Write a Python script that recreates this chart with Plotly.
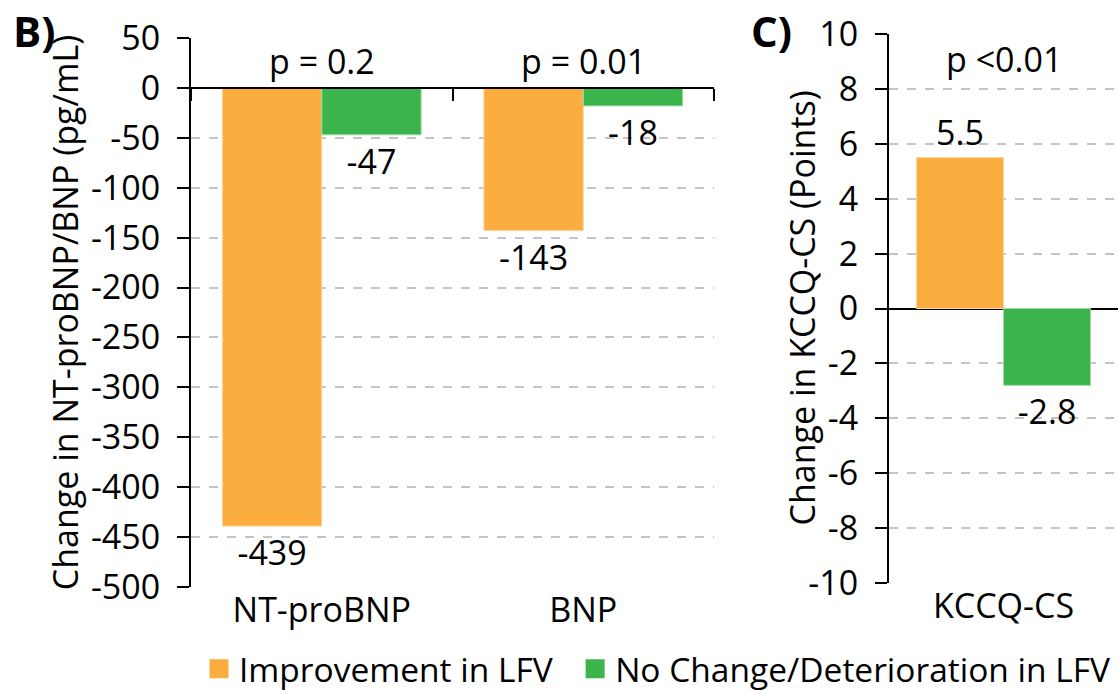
import plotly.graph_objects as go

# ---- data ----
left_categories = ["NT-proBNP", "BNP"]
left_improve = [-439, -143]
left_nochange = [-47, -18]
left_pvalues = ["p = 0.2", "p = 0.01"]

right_categories = ["KCCQ-CS"]
right_improve = [5.5]
right_nochange = [-2.8]
right_pvalues = ["p <0.01"]

series_names = ["Improvement in LFV", "No Change/Deterioration in LFV"]
left_yticks = list(range(-500, 51, 50))
right_yticks = list(range(-10, 11, 2))

ORANGE = "#FBAD3F"
GREEN = "#3BB54B"
FONT = "Open Sans"
FS = 34

W, H = 1118, 694
def px_x(v): return v / W
def px_y(v): return 1 - v / H

left_dom_x = [px_x(191), px_x(714)]
left_dom_y = [px_y(587), px_y(38)]
right_dom_x = [px_x(889), 1.0]
right_dom_y = [px_y(583), px_y(34)]

fig = go.Figure()

def fmt(v):
    return f"{v:g}"

def bar(x, y, name, color, edge, xa, ya):
    return go.Bar(x=x, y=y, name=name,
                  marker=dict(color=color, line=dict(color=edge, width=1)),
                  text=[fmt(v) for v in y], textposition="outside",
                  textfont=dict(size=FS, color="black", family=FONT),
                  cliponaxis=False, xaxis=xa, yaxis=ya, showlegend=False)

fig.add_trace(bar(left_categories, left_improve, series_names[0], ORANGE, "#FDD6A0", "x", "y"))
fig.add_trace(bar(left_categories, left_nochange, series_names[1], GREEN, "#9ED9A5", "x", "y"))
fig.add_trace(bar(right_categories, right_improve, series_names[0], ORANGE, "#FDD6A0", "x2", "y2"))
fig.add_trace(bar(right_categories, right_nochange, series_names[1], GREEN, "#9ED9A5", "x2", "y2"))

# empty trace so the zero-line axis (with category boundary ticks) has categories
fig.add_trace(go.Scatter(x=left_categories, y=[None] * len(left_categories), mode="markers",
                         xaxis="x3", yaxis="y", showlegend=False, hoverinfo="skip"))

# legend entries (square swatches)
legend_labels = [series_names[0] + "\u00a0\u00a0", series_names[1]]
for name, color in zip(legend_labels, [ORANGE, GREEN]):
    fig.add_trace(go.Scatter(x=[None], y=[None], mode="markers", name=name,
                             marker=dict(symbol="square", size=16, color=color,
                                         line=dict(color=color, width=3)),
                             xaxis="x", yaxis="y", showlegend=True))

zero_frac = (0 - left_yticks[0]) / (left_yticks[-1] - left_yticks[0])
zero_pos = left_dom_y[0] + zero_frac * (left_dom_y[1] - left_dom_y[0])

grid = dict(showgrid=True, gridcolor="#C4C4C4", gridwidth=1.5, griddash="dash")
tickfont = dict(size=FS, color="black", family=FONT)

fig.update_layout(
    width=W, height=H,
    margin=dict(l=0, r=0, t=0, b=0, autoexpand=False),
    plot_bgcolor="white", paper_bgcolor="white",
    font=dict(family=FONT, size=FS, color="black"),
    barmode="group", bargap=0.24, bargroupgap=0,
    xaxis=dict(domain=left_dom_x, anchor="y", type="category", automargin=False,
               categoryarray=left_categories, range=[-0.5, 1.5],
               showline=False, ticks="", tickfont=tickfont, showgrid=False),
    xaxis3=dict(domain=left_dom_x, anchor="free", position=zero_pos, overlaying="x",
                type="category", categoryarray=left_categories, range=[-0.5, 1.5],
                automargin=False,
                showline=True, linecolor="black", linewidth=2,
                ticks="outside", tickson="boundaries", ticklen=12, tickwidth=2,
                tickcolor="black", showticklabels=False, showgrid=False),
    yaxis=dict(domain=left_dom_y, anchor="x", range=[left_yticks[0], left_yticks[-1]],
               automargin=False,
               tickvals=left_yticks, ticktext=[str(v) for v in left_yticks],
               showline=True, linecolor="black", linewidth=2,
               ticks="outside", ticklen=12, tickwidth=2, tickcolor="black",
               ticklabelstandoff=10,
               tickfont=tickfont, zeroline=False,
               title=dict(text="Change in NT-proBNP/BNP (pg/mL)", font=tickfont, standoff=2),
               **grid),
    xaxis2=dict(domain=right_dom_x, anchor="y2", type="category", automargin=False,
                categoryarray=right_categories, range=[-0.5, 0.5],
                showline=False, ticks="", tickfont=tickfont, showgrid=False),
    yaxis2=dict(domain=right_dom_y, anchor="x2", range=[right_yticks[0], right_yticks[-1]],
                automargin=False,
                tickvals=right_yticks, ticktext=[str(v) for v in right_yticks],
                showline=True, linecolor="black", linewidth=2,
                ticks="outside", ticklen=12, tickwidth=2, tickcolor="black",
                ticklabelstandoff=10,
                tickfont=tickfont, zeroline=True, zerolinecolor="black", zerolinewidth=2,
                **grid),
    legend=dict(orientation="h", x=px_x(199), xanchor="left", y=px_y(669), yanchor="middle",
                font=dict(size=33.5, color="black", family=FONT), itemwidth=30,
                itemsizing="trace",
                traceorder="normal", bgcolor="rgba(0,0,0,0)"),
)

# right panel y-axis title (placed close to its tick labels, as in the original)
fig.add_annotation(x=px_x(801), y=(right_dom_y[0] + right_dom_y[1]) / 2, xref="paper", yref="paper",
                   text="Change in KCCQ-CS (Points)", textangle=-90, showarrow=False,
                   xanchor="center", yanchor="middle",
                   font=dict(size=FS, color="black", family=FONT))

# p-value annotations
for cat, p in zip(left_categories, left_pvalues):
    fig.add_annotation(x=cat, y=27, xref="x", yref="y", text=p, showarrow=False,
                       font=dict(size=FS, color="black", family=FONT))
for cat, p in zip(right_categories, right_pvalues):
    fig.add_annotation(x=cat, y=9.1, xref="x2", yref="y2", text=p, showarrow=False,
                       font=dict(size=FS, color="black", family=FONT))

# panel labels
fig.add_annotation(x=px_x(11), y=1, xref="paper", yref="paper", text="<b>B)</b>",
                   showarrow=False, xanchor="left", yanchor="top",
                   font=dict(size=42, color="black", family=FONT))
fig.add_annotation(x=px_x(749), y=1, xref="paper", yref="paper", text="<b>C)</b>",
                   showarrow=False, xanchor="left", yanchor="top",
                   font=dict(size=42, color="black", family=FONT))

fig.write_html("out.html", config={"displayModeBar": False},
               post_script="document.body.style.margin='0px';")
